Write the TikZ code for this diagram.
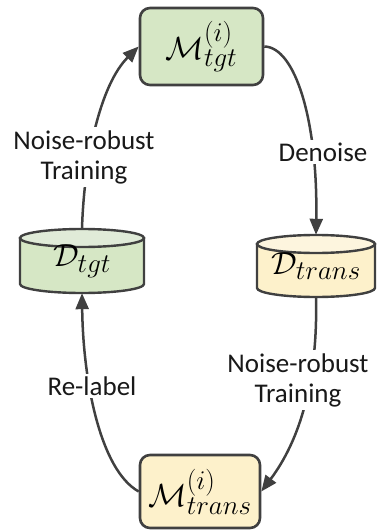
\documentclass[tikz,border=0pt]{standalone}
\usepackage{fix-cm}
\usepackage{fontspec}
\setsansfont{Carlito}
\usetikzlibrary{arrows.meta}
\DeclareMathSizes{32}{32}{27}{21}
\definecolor{edge}{HTML}{404040}
\definecolor{greenbody}{HTML}{D6E7C5}
\definecolor{greentop}{HTML}{E0EBD8}
\definecolor{yellowbody}{HTML}{FDF1CB}
\definecolor{yellowtop}{HTML}{FDF5DE}
% data cylinder: centre x, top-ellipse y, bottom-ellipse y, x radius, body colour, lid colour
\newcommand\datacyl[6]{%
  \filldraw[fill=#5, draw=edge, line width=2.4pt]
    ({#1-#4},#2) -- ({#1-#4},#3)
    arc[start angle=180, end angle=360, x radius=#4pt, y radius=9pt]
    -- ({#1+#4},#2) -- cycle;
  \filldraw[fill=#6, draw=edge, line width=2.4pt]
    (#1,#2) ellipse[x radius=#4pt, y radius=9pt];
}
\begin{document}
\begin{tikzpicture}[x=1pt, y=-1pt,
  lbl/.style={font=\sffamily\fontsize{27}{30}\selectfont, align=center,
              text=black!90, fill=white, inner sep=3pt},
  mathlbl/.style={font=\fontsize{32}{36}\selectfont},
  box/.style={draw=edge, line width=2.6pt, rounded corners=10pt, mathlbl},
  conn/.style={draw=edge, line width=2.5pt},
  arr/.style={conn, -{Triangle[length=16pt, width=13pt]}}]
\useasboundingbox (0,0) rectangle (376,530);

% models
\node[box, fill=greenbody, minimum width=123pt, minimum height=77pt]
  (Mtgt) at (201.5,46.5) {$\mathcal{M}^{(i)}_{tgt}$};
\node[box, fill=yellowbody, minimum width=120pt, minimum height=73pt, inner sep=1pt]
  (Mtrans) at (200,491.5) {$\mathcal{M}^{(i)}_{trans}$};

% datasets
\datacyl{82}{238}{284}{62}{greenbody}{greentop}
\datacyl{316}{244}{288}{59}{yellowbody}{yellowtop}
\node[mathlbl, minimum width=124pt, minimum height=64pt]
  (Dtgt) at (82,261) {$\mathcal{D}_{tgt}$};
\node[mathlbl, minimum width=118pt, minimum height=62pt]
  (Dtrans) at (316,266) {$\mathcal{D}_{trans}$};

% cycle
\draw[arr] (Dtgt.north) .. controls (84,160) and (100,85) .. (Mtgt.west);
\draw[arr] (Mtgt.east) .. controls (295,47) and (318,120) .. (Dtrans.north);
\draw[arr] (Dtrans.south) .. controls (318,380) and (300,440) .. (Mtrans.east);
\draw[arr] (Mtrans.west) .. controls (100,470) and (83,380) .. (Dtgt.south);

% edge labels
\node[lbl] (trainTgt) at (84,157) {Noise-robust\\Training};
\node[lbl] (denoise) at (323,152) {Denoise};
\node[lbl] (trainTrans) at (298,380) {Noise-robust\\Training};
\node[lbl] (relabel) at (92,386) {Re-label};
\end{tikzpicture}
\end{document}
